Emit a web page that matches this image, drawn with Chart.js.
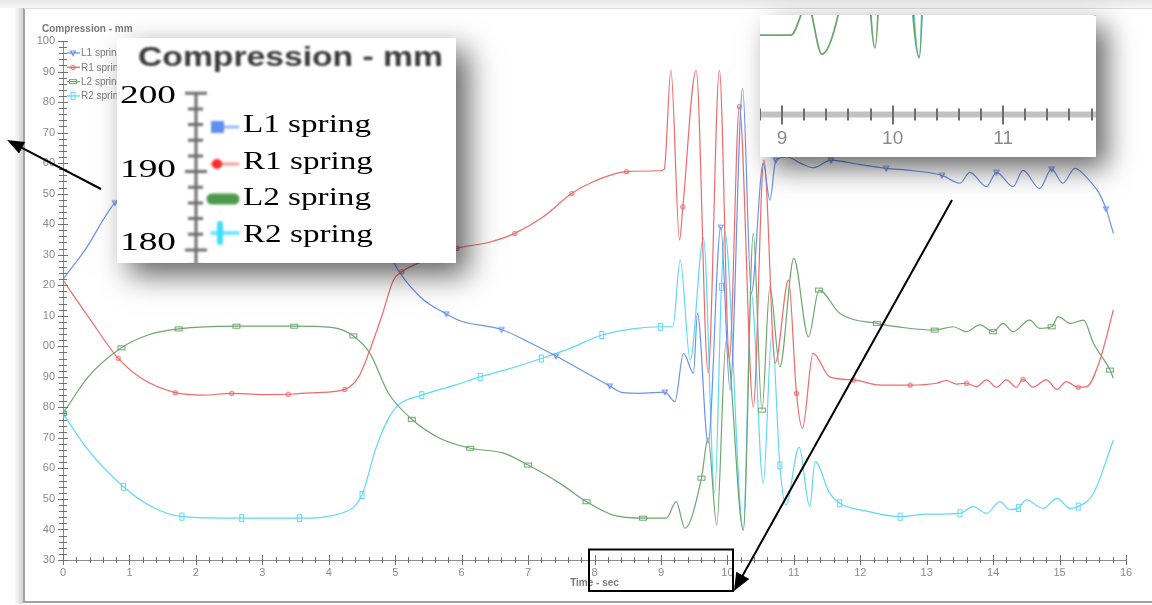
<!DOCTYPE html>
<html>
<head>
<meta charset="utf-8">
<title>Compression - mm</title>
<script src="https://cdn.jsdelivr.net/npm/chart.js@4"></script>
<style>
  body { margin: 0; background: #fff; }
  #wrap { position: relative; width: 1152px; height: 605px; }
  #zoomBox {
    position: absolute; left: 760px; top: 15px; width: 336px; height: 142px;
    background: #fff; box-shadow: 11px 11px 26px rgba(0, 0, 0, 0.6);
  }
  #zoomChart { filter: blur(0.5px); }
</style>
</head>
<body>
<div id="wrap">
  <canvas id="myChart" width="1152" height="605"></canvas>
  <div id="zoomBox"><canvas id="zoomChart" width="336" height="142"></canvas></div>
</div>
<script>
// ---- data (time in s, compression in mm) ----
const seriesNames = ['L1 spring', 'R1 spring', 'L2 spring', 'R2 spring'];

const l1Time = [0, 0.33, 0.78, 1.2, 1.6, 2.45, 3.3, 4.12, 4.5, 4.75, 4.94, 5.37, 5.77, 6.0, 6.6, 7.0, 7.42, 8.23, 8.43, 8.68,
  9.06, 9.21, 9.34, 9.49, 9.55, 9.71, 9.9, 10.04, 10.23, 10.36, 10.54, 10.64, 10.73, 10.9, 11.1, 11.29, 11.56, 12.0, 12.39, 12.8,
  13.23, 13.5, 13.65, 13.9, 14.05, 14.3, 14.45, 14.7, 14.88, 15.05, 15.23, 15.46, 15.6, 15.7, 15.81];
const l1Vals = [122, 131.5, 147, 153, 156, 158, 158, 157, 152, 140, 129, 116.3, 110.6, 108.2, 105.5, 101.5, 96.8, 87, 84.8, 84.6,
  85, 81.9, 97.7, 91.2, 110.8, 68.2, 139, 85.7, 184.5, 117.4, 159.9, 147.9, 161, 162, 160, 158.5, 161, 159.5, 158.3, 157.5,
  156, 153.4, 157, 152.3, 157, 152.3, 157.6, 151.7, 158, 153.4, 158.3, 154, 150, 145, 137];
const l1Marks = [0.78, 1.6, 2.45, 3.3, 4.12, 4.94, 5.77, 6.6, 7.42, 8.23, 9.06, 9.9, 10.73, 11.56, 12.39, 13.23, 14.05, 14.88, 15.7];

const r1Time = [0, 0.38, 0.83, 1.18, 1.69, 2.1, 2.54, 3.0, 3.39, 3.8, 4.24, 4.45, 4.6, 4.8, 4.97, 5.1, 5.47, 5.93, 6.4, 6.8,
  7.23, 7.66, 7.98, 8.48, 8.99, 9.05, 9.15, 9.28, 9.33, 9.53, 9.71, 9.88, 10.03, 10.18, 10.39, 10.55, 10.72, 10.92, 11.04, 11.13,
  11.29, 11.54, 11.9, 12.3, 12.75, 13.15, 13.3, 13.45, 13.6, 13.75, 13.9, 14.05, 14.2, 14.35, 14.45, 14.6, 14.8, 14.96, 15.1, 15.28,
  15.41, 15.6, 15.81];
const r1Vals = [121.7, 109.7, 96.1, 89.5, 84.8, 84, 84.6, 84.2, 84.3, 84.8, 85.9, 90, 97.7, 110, 121.5, 124.4, 128.3, 132.1, 134, 137,
  142.4, 150.1, 153.9, 157.2, 157.5, 158, 190.5, 134.8, 145.7, 190.5, 91.3, 190.5, 96, 178.5, 80.2, 161, 94.5, 121.7, 84.6, 73.1,
  97.7, 90, 89, 87.3, 87.3, 87.9, 88.8, 87.6, 87.9, 86.8, 89, 86.6, 89, 86.6, 89.2, 86.6, 89, 85.9, 88.4, 86.6,
  86.8, 95, 111.9];
const r1Marks = [0.83, 1.69, 2.54, 3.39, 4.24, 5.1, 5.93, 6.8, 7.66, 8.48, 9.33, 10.18, 11.04, 11.9, 12.75, 13.6, 14.45, 15.28];

const l2Time = [0, 0.38, 0.88, 1.28, 1.74, 2.61, 3.48, 4.04, 4.37, 4.62, 4.9, 5.25, 5.67, 6.13, 6.63, 7.0, 7.48, 7.88, 8.28, 8.73,
  9.08, 9.23, 9.36, 9.61, 9.71, 9.84, 9.98, 10.24, 10.39, 10.52, 10.64, 10.79, 11.0, 11.22, 11.38, 11.69, 12.25, 12.7, 13.12, 13.4,
  13.6, 13.8, 14.0, 14.15, 14.3, 14.55, 14.7, 14.88, 14.98, 15.16, 15.36, 15.51, 15.76, 15.81];
const l2Vals = [78, 90, 99.5, 103.7, 105.7, 106.6, 106.6, 106.2, 103.4, 97.7, 84.6, 76.1, 69.9, 66.6, 65, 61.1, 55.1, 49.1, 44.7, 43.7,
  43.7, 49.1, 40.4, 56.8, 70, 41.5, 101.5, 39.8, 137, 79.1, 119.5, 93.3, 128.8, 103.1, 118.4, 110.8, 107.5, 106, 105.3, 106.4,
  104.8, 107, 104.8, 107.5, 104.8, 108.6, 105.9, 106.4, 109.7, 107.5, 108.6, 101, 92.2, 89.5];
const l2Marks = [0, 0.88, 1.74, 2.61, 3.48, 4.37, 5.25, 6.13, 7.0, 7.88, 8.73, 9.61, 10.52, 11.38, 12.25, 13.12, 14.0, 14.88, 15.76];

const r2Time = [0, 0.38, 0.91, 1.33, 1.79, 2.69, 3.56, 4.19, 4.5, 4.7, 4.9, 5.05, 5.4, 5.9, 6.28, 6.7, 7.2, 7.65, 8.11, 8.6,
  8.99, 9.18, 9.29, 9.44, 9.64, 9.81, 9.91, 9.96, 10.24, 10.36, 10.54, 10.67, 10.79, 10.88, 11.08, 11.24, 11.32, 11.54, 11.69, 12.1,
  12.6, 13.0, 13.5, 13.7, 13.9, 14.1, 14.25, 14.38, 14.5, 14.75, 14.96, 15.16, 15.28, 15.51, 15.81];
const r2Vals = [78, 66, 54, 47.5, 44.2, 43.7, 43.7, 45.3, 51.3, 66, 76.4, 80.8, 84, 87.3, 90, 92.5, 96, 99.5, 103.7, 105.8,
  106.4, 106.4, 128.3, 95.5, 135.4, 51.8, 119.5, 137.5, 39.8, 117.4, 55.1, 104.3, 61, 48, 67, 47.5, 62.2, 51.8, 48.6, 46,
  44.2, 45, 45.3, 47.5, 45.3, 49.1, 46.5, 47, 49.7, 46.9, 50.2, 46.9, 47.5, 51.8, 69.3];
const r2Marks = [0, 0.91, 1.79, 2.69, 3.56, 4.5, 5.4, 6.28, 7.2, 8.11, 8.99, 9.91, 10.79, 11.69, 12.6, 13.5, 14.38, 15.28];

// the axis only prints the last digits of each value
const yTickValues = [30, 40, 50, 60, 70, 80, 90, 100, 110, 120, 130, 140, 150, 160, 170, 180, 190, 200];
const yTickLabels = ['30', '40', '50', '60', '70', '80', '90', '00', '10', '20', '30', '40', '50', '60', '70', '80', '90', '100'];
const zoomTickLabels = ['9', '10', '11'];

// ---- styles ----
const lineColors = ['#6b93ec', '#f06a6a', '#6ea66e', '#5fd8f8'];
const markerKinds = ['tri', 'dot', 'wide', 'tall'];

function markerCanvas(kind, color) {
  const c = document.createElement('canvas');
  let g;
  if (kind === 'tri') {
    c.width = 8; c.height = 8; g = c.getContext('2d'); g.strokeStyle = color; g.lineWidth = 1.1;
    g.beginPath(); g.moveTo(1.5, 2); g.lineTo(6.5, 2); g.lineTo(4, 6.5); g.closePath(); g.stroke();
  } else if (kind === 'dot') {
    c.width = 7; c.height = 7; g = c.getContext('2d'); g.strokeStyle = color; g.lineWidth = 1.1;
    g.beginPath(); g.arc(3.5, 3.5, 2, 0, Math.PI * 2); g.stroke();
  } else if (kind === 'wide') {
    c.width = 10; c.height = 7; g = c.getContext('2d'); g.strokeStyle = color; g.lineWidth = 1;
    g.strokeRect(1.5, 1.5, 7, 4);
  } else {
    c.width = 7; c.height = 10; g = c.getContext('2d'); g.strokeStyle = color; g.lineWidth = 1;
    g.strokeRect(1.5, 1.5, 4, 7);
  }
  return c;
}
const markers = markerKinds.map((k, i) => markerCanvas(k, lineColors[i]));

function points(times, vals) {
  return times.map((t, i) => ({ x: t, y: vals[i] }));
}
const seriesTimes = [l1Time, r1Time, l2Time, r2Time];
const seriesVals = [l1Vals, r1Vals, l2Vals, r2Vals];
const seriesMarks = [l1Marks, r1Marks, l2Marks, r2Marks];

Chart.defaults.font.family = '"Liberation Sans", Arial, sans-serif';

// frame of the screenshot and the small title
const framePlugin = {
  id: 'frame',
  beforeDraw(chart) {
    const { ctx, width, height } = chart;
    ctx.save();
    ctx.fillStyle = '#fff';
    ctx.fillRect(0, 0, width, height);
    const g = ctx.createLinearGradient(0, 0, 0, 8);
    g.addColorStop(0, '#e6e6e6'); g.addColorStop(1, '#f7f7f7');
    ctx.fillStyle = g; ctx.fillRect(0, 0, width, 8);
    const g2 = ctx.createLinearGradient(14, 0, 23, 0);
    g2.addColorStop(0, 'rgba(0,0,0,0)'); g2.addColorStop(1, 'rgba(0,0,0,0.18)');
    ctx.fillStyle = g2; ctx.fillRect(14, 8, 9, 596);
    ctx.strokeStyle = '#a3a3a3'; ctx.lineWidth = 2;
    ctx.beginPath();
    ctx.moveTo(24, 8); ctx.lineTo(24, 602); ctx.lineTo(width, 602);
    ctx.stroke();
    ctx.strokeStyle = '#dcdcdc'; ctx.lineWidth = 1;
    ctx.beginPath(); ctx.moveTo(24, 8.5); ctx.lineTo(width, 8.5); ctx.stroke();
    ctx.fillStyle = '#7a7a7a';
    ctx.font = 'bold 10px "Liberation Sans", Arial';
    ctx.textBaseline = 'alphabetic';
    ctx.fillText('Compression - mm', 42, 32);
    ctx.restore();
  }
};

// crossing tick marks on both axes, every 2 mm and every 0.2 s
const axisMarks = {
  id: 'axisMarks',
  afterDatasetsDraw(chart) {
    const { ctx, scales: { x, y } } = chart;
    ctx.save();
    ctx.strokeStyle = '#707070';
    ctx.lineWidth = 1;
    ctx.beginPath();
    for (let v = y.min; v <= y.max; v += 2) {
      const py = Math.round(y.getPixelForValue(v)) + 0.5;
      const half = v % 10 === 0 ? 5 : 4;
      ctx.moveTo(x.left - half, py); ctx.lineTo(x.left + half, py);
    }
    for (let i = 0; i <= x.max * 5; i++) {
      const px = Math.round(x.getPixelForValue(i / 5)) + 0.5;
      const half = i % 5 === 0 ? 5 : 3;
      ctx.moveTo(px, y.bottom - half); ctx.lineTo(px, y.bottom + half);
    }
    ctx.stroke();

    // small legend in the top left corner of the plot
    ctx.font = '10px "Liberation Sans", Arial';
    ctx.textBaseline = 'middle';
    chart.data.datasets.forEach((ds, i) => {
      const ly = 53 + i * 14.3;
      ctx.strokeStyle = lineColors[i]; ctx.lineWidth = 1.3;
      ctx.beginPath(); ctx.moveTo(67, ly); ctx.lineTo(80, ly); ctx.stroke();
      ctx.drawImage(markers[i], 73 - markers[i].width / 2, ly - markers[i].height / 2);
      ctx.fillStyle = '#7a7a7a';
      ctx.fillText(ds.label, 81, ly + 0.5);
    });
    ctx.restore();
  }
};

// enlarged copy of the legend corner, then the arrows and the box
const overlayPlugin = {
  id: 'overlay',
  afterDraw(chart) {
    const ctx = chart.ctx;
    ctx.save();
    ctx.shadowColor = 'rgba(0,0,0,0.62)';
    ctx.shadowBlur = 28; ctx.shadowOffsetX = 12; ctx.shadowOffsetY = 12;
    ctx.fillStyle = '#fff';
    ctx.fillRect(117, 38, 339, 225);
    ctx.restore();

    ctx.save();
    ctx.beginPath(); ctx.rect(117, 38, 339, 225); ctx.clip();
    // blurred title
    ctx.filter = 'blur(1.3px)';
    ctx.font = 'bold 28px "Liberation Sans", Arial';
    ctx.fillStyle = '#3a3a3a';
    const tw = ctx.measureText('Compression - mm').width;
    ctx.save(); ctx.translate(138, 66); ctx.scale(305 / tw, 1);
    ctx.fillText('Compression - mm', 0, 0); ctx.restore();

    // enlarged axis
    ctx.strokeStyle = '#6f6f6f'; ctx.lineWidth = 3;
    ctx.beginPath(); ctx.moveTo(196, 92); ctx.lineTo(196, 265);
    for (let k = 0; k <= 11; k++) {
      const ty = 93.3 + k * 15.66;
      const major = k % 5 === 0;
      ctx.moveTo(major ? 185 : 188, ty); ctx.lineTo(major ? 207 : 203, ty);
    }
    ctx.stroke();

    // enlarged legend keys
    const keyY = [127, 164, 199, 233];
    ctx.lineCap = 'round';
    ctx.strokeStyle = '#98b6f4'; ctx.lineWidth = 3;
    ctx.beginPath(); ctx.moveTo(214, keyY[0]); ctx.lineTo(238, keyY[0]); ctx.stroke();
    ctx.fillStyle = '#5f8ff0'; ctx.fillRect(211, keyY[0] - 6, 13, 12);
    ctx.strokeStyle = '#f59a9a'; ctx.lineWidth = 3;
    ctx.beginPath(); ctx.moveTo(212, keyY[1]); ctx.lineTo(238, keyY[1]); ctx.stroke();
    ctx.fillStyle = '#ff2a2a'; ctx.beginPath(); ctx.arc(217, keyY[1], 5, 0, Math.PI * 2); ctx.fill();
    ctx.strokeStyle = '#4d9a4d'; ctx.lineWidth = 11;
    ctx.beginPath(); ctx.moveTo(212, keyY[2]); ctx.lineTo(234, keyY[2]); ctx.stroke();
    ctx.strokeStyle = '#70e6ff'; ctx.lineWidth = 4;
    ctx.beginPath(); ctx.moveTo(212, keyY[3]); ctx.lineTo(238, keyY[3]); ctx.stroke();
    ctx.strokeStyle = '#3fdcff'; ctx.lineWidth = 6;
    ctx.beginPath(); ctx.moveTo(220, keyY[3] - 9); ctx.lineTo(220, keyY[3] + 9); ctx.stroke();
    ctx.filter = 'none';

    // serif texts
    ctx.fillStyle = '#000';
    ctx.font = '26px "Liberation Serif", "Times New Roman", serif';
    const nw = ctx.measureText('200').width;
    [['200', 103], ['190', 177], ['180', 250]].forEach(([s, by]) => {
      ctx.save(); ctx.translate(120, by); ctx.scale(56 / nw, 1); ctx.fillText(s, 0, 0); ctx.restore();
    });
    const lw = ctx.measureText(seriesNames[0]).width;
    const baseY = [132, 169, 205, 242];
    seriesNames.forEach((s, i) => {
      ctx.save(); ctx.translate(243, baseY[i]); ctx.scale(128 / lw, 1); ctx.fillText(s, 0, 0); ctx.restore();
    });
    ctx.restore();

    // arrows and the box on the time axis
    ctx.save();
    ctx.strokeStyle = '#000'; ctx.fillStyle = '#000'; ctx.lineWidth = 2;
    drawArrow(ctx, 101, 189, 7, 140, 17, 6.5);
    drawArrow(ctx, 952, 200, 734, 591, 18, 7.5);
    ctx.strokeRect(589, 549.5, 144, 41.5);
    ctx.restore();
  }
};

function drawArrow(ctx, x0, y0, x1, y1, head, half) {
  const a = Math.atan2(y1 - y0, x1 - x0);
  const c = Math.cos(a), s = Math.sin(a);
  ctx.beginPath();
  ctx.moveTo(x0, y0);
  ctx.lineTo(x1 - c * head * 0.8, y1 - s * head * 0.8);
  ctx.stroke();
  ctx.beginPath();
  ctx.moveTo(x1, y1);
  ctx.lineTo(x1 - head * c + half * s, y1 - head * s - half * c);
  ctx.lineTo(x1 - head * c - half * s, y1 - head * s + half * c);
  ctx.closePath();
  ctx.fill();
}

const ctxMain = document.getElementById('myChart').getContext('2d');
const myChart = new Chart(ctxMain, {
  type: 'line',
  data: {
    datasets: seriesNames.map((name, i) => ({
      label: name,
      data: points(seriesTimes[i], seriesVals[i]),
      marks: seriesMarks[i],
      borderColor: lineColors[i],
      borderWidth: 1.2,
      cubicInterpolationMode: 'monotone',
      pointStyle: markers[i],
      pointRadius: c => (c.raw && c.dataset.marks.includes(c.raw.x)) ? 3 : 0,
      pointHoverRadius: 0
    }))
  },
  options: {
    responsive: false,
    animation: false,
    devicePixelRatio: 1,
    layout: { padding: { top: 41, right: 26, left: 0, bottom: 0 } },
    plugins: { legend: { display: false }, tooltip: { enabled: false } },
    scales: {
      x: {
        type: 'linear', min: 0, max: 16,
        grid: { display: false, drawTicks: false },
        border: { display: true, color: '#8c8c8c', width: 1 },
        ticks: { stepSize: 1, includeBounds: false, padding: 6, color: '#8a8a8a', font: { size: 11 } },
        title: { display: true, text: 'Time - sec', color: '#7a7a7a', font: { size: 10, weight: 'bold' }, padding: { top: 0, bottom: 16 } },
        afterFit(s) { s.height = 45; }
      },
      y: {
        min: 30, max: 200,
        grid: { display: false, drawTicks: false },
        border: { display: true, color: '#8c8c8c', width: 1 },
        ticks: {
          stepSize: 10, includeBounds: false, padding: 8, color: '#8a8a8a', font: { size: 11 },
          callback: v => yTickLabels[yTickValues.indexOf(v)]
        },
        afterFit(s) { s.width = 63; }
      }
    }
  },
  plugins: [framePlugin, axisMarks, overlayPlugin]
});

// zoomed view of the time axis around 9-11 s
const zoomAxis = {
  id: 'zoomAxis',
  afterDatasetsDraw(chart) {
    const { ctx, scales: { x }, chartArea } = chart;
    const ay = chartArea.bottom + 0.5;
    ctx.save();
    ctx.fillStyle = '#c2c2c2';
    ctx.fillRect(0, ay - 3, chart.width, 6);
    ctx.strokeStyle = '#6e6e6e'; ctx.lineWidth = 2;
    ctx.beginPath();
    for (let i = Math.ceil(x.min * 5 - 1e-6); i <= x.max * 5; i++) {
      const px = Math.round(x.getPixelForValue(i / 5));
      const major = i % 5 === 0;
      ctx.moveTo(px, ay - (major ? 9 : 6)); ctx.lineTo(px, ay + (major ? 10 : 6));
    }
    ctx.stroke();
    ctx.restore();
  }
};

const zoomChart = new Chart(document.getElementById('zoomChart').getContext('2d'), {
  type: 'line',
  data: {
    datasets: seriesNames.map((name, i) => ({
      label: name,
      data: points(seriesTimes[i], seriesVals[i]),
      borderColor: lineColors[i],
      borderWidth: 1.8,
      cubicInterpolationMode: 'monotone',
      pointRadius: 0
    }))
  },
  options: {
    responsive: false,
    animation: false,
    devicePixelRatio: 1,
    layout: { padding: 0 },
    plugins: { legend: { display: false }, tooltip: { enabled: false } },
    scales: {
      x: {
        type: 'linear', min: 8.8, max: 11.84,
        grid: { display: false, drawTicks: false },
        border: { display: false },
        ticks: {
          stepSize: 1, includeBounds: false, padding: 13, color: '#8a8a8a', font: { size: 19 },
          callback: v => zoomTickLabels[v - 9]
        },
        afterFit(s) { s.height = 43; }
      },
      y: { display: false, min: 30, max: 47.2 }
    }
  },
  plugins: [zoomAxis]
});
</script>
</body>
</html>
